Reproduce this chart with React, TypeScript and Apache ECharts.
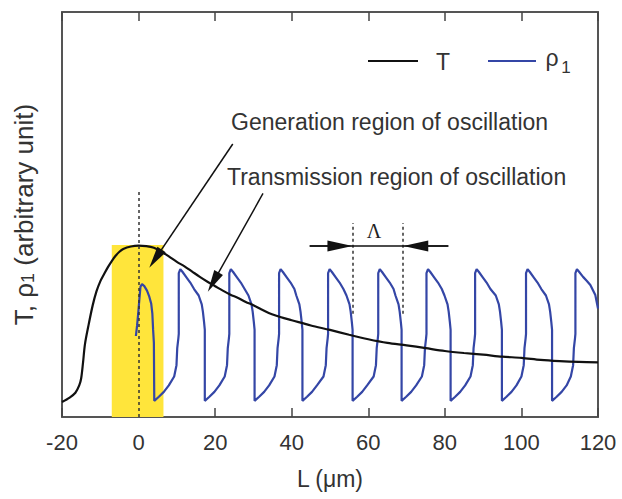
import React, { useEffect, useRef } from 'react';
import * as echarts from 'echarts';

// ---- data ----
const xMin = -20;
const xMax = 120;
const xStep = 20;

// T (black) curve
const tX = [-20, -18, -16.5, -15.5, -15, -14.5, -14, -13, -12, -11, -10, -9, -8, -7, -6, -5, -4, -2, 0, 2, 4, 6, 8, 10, 12, 14, 16, 18, 20, 22, 24, 26, 28, 30, 32, 34, 36, 38, 40, 45, 50, 55, 60, 65, 70, 75, 80, 85, 90, 95, 100, 105, 110, 115, 120];
const tY = [3.7, 4.8, 6.0, 7.8, 9.5, 13.5, 18.0, 23.0, 27.5, 31.0, 33.5, 35.3, 37.0, 38.5, 39.8, 40.8, 41.5, 42.1, 42.3, 42.2, 41.8, 40.8, 39.6, 38.3, 37.2, 35.9, 34.6, 33.4, 32.3, 31.2, 30.2, 29.4, 28.4, 27.6, 26.6, 25.7, 25.0, 24.4, 23.9, 22.6, 21.5, 20.3, 19.2, 18.3, 17.7, 17.0, 16.3, 15.8, 15.4, 14.9, 14.6, 14.1, 13.8, 13.6, 13.5];

// rho1 (blue) – generation pulse and transmitted pulses
const rhoGeneration: number[][] = [
  [-0.7, 20.0], [-0.4, 22.5], [-0.1, 25.5], [0.2, 29.0], [0.5, 32.2], [0.9, 32.8], [1.5, 32.3], [2.2, 31.2], [2.8, 29.7], [3.3, 28.0], [3.6, 25.5], [3.8, 21.5], [4.0, 18.3], [4.1, 4.0],
];
const rhoPulse1: number[][] = [
  [5.3, 5.0], [6.6, 6.2], [7.9, 7.8], [9.3, 10.0], [9.9, 12.8], [10.1, 17.0], [10.4, 19.5], [10.5, 20.5], [10.5, 35.5], [10.9, 36.5], [11.5, 35.8], [12.5, 34.5], [13.5, 33.2], [14.5, 31.6], [15.7, 30.0], [16.5, 27.8], [16.8, 26.0], [17.1, 23.5], [17.3, 21.5], [17.3, 4.0],
];
const rhoPulse2: number[][] = [
  [18.5, 5.0], [19.8, 6.2], [21.1, 7.8], [22.5, 10.0], [23.1, 12.8], [23.3, 17.0], [23.6, 19.5], [23.7, 20.5], [23.7, 35.5], [24.1, 36.5], [24.7, 35.8], [25.7, 34.5], [26.7, 33.2], [27.7, 31.6], [28.7, 30.0], [29.5, 27.8], [29.8, 26.0], [30.1, 23.5], [30.3, 21.5], [30.3, 4.0],
];
const rhoPulse3: number[][] = [
  [31.5, 5.0], [32.8, 6.2], [34.1, 7.8], [35.5, 10.0], [36.1, 12.8], [36.3, 17.0], [36.6, 19.5], [36.7, 20.5], [36.7, 35.5], [37.1, 36.5], [37.7, 35.8], [38.7, 34.5], [39.7, 33.2], [40.7, 31.6], [41.2, 30.0], [42.0, 27.8], [42.3, 26.0], [42.6, 23.5], [42.8, 21.5], [42.8, 4.0],
];
const rhoPulse4: number[][] = [
  [44.0, 5.0], [45.3, 6.2], [46.6, 7.8], [48.3, 10.0], [48.9, 12.8], [49.1, 17.0], [49.4, 19.5], [49.5, 20.5], [49.5, 35.5], [49.9, 36.5], [50.5, 35.8], [51.5, 34.5], [52.5, 33.2], [53.5, 31.6], [54.3, 30.0], [55.1, 27.8], [55.4, 26.0], [55.7, 23.5], [55.9, 21.5], [55.9, 4.0],
];
const rhoPulse5: number[][] = [
  [57.1, 5.0], [58.4, 6.2], [59.7, 7.8], [61.4, 10.0], [62.0, 12.8], [62.2, 17.0], [62.5, 19.5], [62.6, 20.5], [62.6, 35.5], [63.0, 36.5], [63.6, 35.8], [64.6, 34.5], [65.6, 33.2], [66.6, 31.6], [67.1, 30.0], [67.9, 27.8], [68.2, 26.0], [68.5, 23.5], [68.7, 21.5], [68.7, 4.0],
];
const rhoPulse6: number[][] = [
  [69.9, 5.0], [71.2, 6.2], [72.5, 7.8], [74.0, 10.0], [74.6, 12.8], [74.8, 17.0], [75.1, 19.5], [75.2, 20.5], [75.2, 35.5], [75.6, 36.5], [76.2, 35.8], [77.2, 34.5], [78.2, 33.2], [79.2, 31.6], [79.9, 30.0], [80.7, 27.8], [81.0, 26.0], [81.3, 23.5], [81.5, 21.5], [81.5, 4.0],
];
const rhoPulse7: number[][] = [
  [82.7, 5.0], [84.0, 6.2], [85.3, 7.8], [86.7, 10.0], [87.3, 12.8], [87.5, 17.0], [87.8, 19.5], [87.9, 20.5], [87.9, 35.5], [88.3, 36.5], [88.9, 35.8], [89.9, 34.5], [90.9, 33.2], [91.9, 31.6], [93.3, 30.0], [94.1, 27.8], [94.4, 26.0], [94.7, 23.5], [94.9, 21.5], [94.9, 4.0],
];
const rhoPulse8: number[][] = [
  [96.1, 5.0], [97.4, 6.2], [98.7, 7.8], [100.0, 10.0], [100.6, 12.8], [100.8, 17.0], [101.1, 19.5], [101.2, 20.5], [101.2, 35.5], [101.6, 36.5], [102.2, 35.8], [103.2, 34.5], [104.2, 33.2], [105.2, 31.6], [106.4, 30.0], [107.2, 27.8], [107.5, 26.0], [107.8, 23.5], [108.0, 21.5], [108.0, 4.0],
];
const rhoPulse9: number[][] = [
  [109.2, 5.0], [110.5, 6.2], [111.8, 7.8], [112.9, 10.0], [113.5, 12.8], [113.7, 17.0], [114.0, 19.5], [114.1, 20.5], [114.1, 35.5], [114.5, 36.5], [115.1, 35.8], [116.1, 34.6], [117.1, 33.6], [118.0, 32.6], [119.3, 30.1], [120.0, 26.8],
];

// annotations (data coordinates)
const yellowRegion = { x0: -7, x1: 6.5, yTop: 42.5 };
const genDashX = 0;
const genDashTop = 56;
const lambdaLeftX = 55.9;
const lambdaRightX = 69.1;
const lambdaDashBottom = 25.5;
const lambdaDashTop = 47.9;
const lambdaArrowY = 42.2;
const lambdaArrowOuterLeft = 44.7;
const lambdaArrowOuterRight = 80.9;
const lambdaHeadLeft = 52.6;
const lambdaHeadRight = 72.4;
const genArrow = { from: [24.6, 67.4], to: [4.4, 39.1] };
const transArrow = { from: [32.5, 55.2], to: [19.5, 33.3] };

const FONT = '"Liberation Sans", Arial, Helvetica, sans-serif';
const TEXT = '#333';

export default function App() {
  const ref = useRef<HTMLDivElement>(null);

  useEffect(() => {
    document.body.style.margin = '0';
    if (!ref.current) return;
    const chart = echarts.init(ref.current, null, { renderer: 'svg' });

    const tData = tX.map((x, i) => [x, tY[i]]);
    const rhoData = [
      ...rhoGeneration, ...rhoPulse1, ...rhoPulse2, ...rhoPulse3, ...rhoPulse4,
      ...rhoPulse5, ...rhoPulse6, ...rhoPulse7, ...rhoPulse8, ...rhoPulse9,
    ];

    const dashStyle = { type: [3, 3] as any, color: '#333', width: 1.5 };
    const solidStyle = { type: 'solid' as any, color: '#111', width: 1.5 };
    const frame = { show: true, onZero: false, lineStyle: { color: '#555', width: 2 } };

    const option: any = {
      animation: false,
      backgroundColor: '#fff',
      textStyle: { fontFamily: FONT },
      grid: { left: 62, right: 24, top: 12, bottom: 82, containLabel: false },
      xAxis: [
        {
          type: 'value', min: xMin, max: xMax, interval: xStep, position: 'bottom',
          name: 'L (μm)', nameLocation: 'middle', nameGap: 50,
          nameTextStyle: { fontSize: 23, color: TEXT, fontFamily: FONT },
          axisLine: frame,
          axisTick: { show: true, inside: true, length: 9, lineStyle: { color: '#444', width: 1.5 } },
          axisLabel: { fontSize: 22, color: TEXT, margin: 14, fontFamily: FONT },
          splitLine: { show: false },
        },
        {
          type: 'value', min: xMin, max: xMax, interval: xStep, position: 'top',
          axisLine: frame,
          axisTick: { show: true, inside: true, length: 9, lineStyle: { color: '#444', width: 1.5 } },
          axisLabel: { show: false },
          splitLine: { show: false },
        },
      ],
      yAxis: [
        {
          type: 'value', min: 0, max: 100, position: 'left',
          name: '{n|T, ρ}{s|1}{n| (arbitrary unit)}', nameLocation: 'middle', nameGap: 25, nameRotate: 90,
          nameTextStyle: {
            color: TEXT, fontFamily: FONT, fontSize: 26,
            rich: {
              n: { fontSize: 26, color: TEXT, fontFamily: FONT, lineHeight: 32, verticalAlign: 'bottom' },
              s: { fontSize: 18, color: TEXT, fontFamily: FONT, lineHeight: 20, verticalAlign: 'bottom' },
            },
          },
          axisLine: frame,
          axisTick: { show: false }, axisLabel: { show: false }, splitLine: { show: false },
        },
        {
          type: 'value', min: 0, max: 100, position: 'right',
          axisLine: frame,
          axisTick: { show: false }, axisLabel: { show: false }, splitLine: { show: false },
        },
      ],
      series: [
        {
          name: 'ρ1', type: 'line', data: rhoData, showSymbol: false, z: 3,
          lineStyle: { color: '#3446a6', width: 2.2 }, itemStyle: { color: '#3446a6' },
          markArea: {
            silent: true,
            itemStyle: { color: '#ffe53b', opacity: 1 },
            data: [[{ coord: [yellowRegion.x0, 0] }, { coord: [yellowRegion.x1, yellowRegion.yTop] }]],
          },
        },
        {
          name: 'T', type: 'line', data: tData, showSymbol: false, smooth: 0.3, z: 4,
          lineStyle: { color: '#111', width: 2.2 }, itemStyle: { color: '#111' },
          markLine: {
            silent: true,
            label: { show: false },
            symbol: ['none', 'none'],
            data: [
              [{ coord: [genDashX, 0], lineStyle: dashStyle }, { coord: [genDashX, genDashTop] }],
              [{ coord: [lambdaLeftX, lambdaDashBottom], lineStyle: dashStyle }, { coord: [lambdaLeftX, lambdaDashTop] }],
              [{ coord: [lambdaRightX, lambdaDashBottom], lineStyle: dashStyle }, { coord: [lambdaRightX, lambdaDashTop] }],
              [{ coord: [lambdaArrowOuterLeft, lambdaArrowY], lineStyle: solidStyle }, { coord: [lambdaArrowOuterRight, lambdaArrowY] }],
              [{ coord: [lambdaArrowOuterLeft, lambdaArrowY], lineStyle: solidStyle }, { coord: [lambdaHeadLeft, lambdaArrowY], symbol: 'triangle', symbolSize: [11, 25] }],
              [{ coord: [lambdaArrowOuterRight, lambdaArrowY], lineStyle: solidStyle }, { coord: [lambdaHeadRight, lambdaArrowY], symbol: 'triangle', symbolSize: [11, 25] }],
              [{ coord: genArrow.from, lineStyle: solidStyle }, { coord: genArrow.to, symbol: 'triangle', symbolSize: [10, 22] }],
              [{ coord: transArrow.from, lineStyle: solidStyle }, { coord: transArrow.to, symbol: 'triangle', symbolSize: [10, 22] }],
            ],
          },
        },
      ],
      graphic: [
        { type: 'line', shape: { x1: 368, y1: 61, x2: 418, y2: 61 }, style: { stroke: '#111', lineWidth: 2.2 } },
        { type: 'text', x: 443, y: 62, style: { text: 'T', fontSize: 23, fontFamily: FONT, fill: TEXT, align: 'center', verticalAlign: 'middle' } },
        { type: 'line', shape: { x1: 488, y1: 61, x2: 536, y2: 61 }, style: { stroke: '#3446a6', lineWidth: 2.2 } },
        { type: 'text', x: 552, y: 58, style: { text: 'ρ', fontSize: 23, fontFamily: FONT, fill: TEXT, align: 'center', verticalAlign: 'middle' } },
        { type: 'text', x: 566, y: 67, style: { text: '1', fontSize: 17, fontFamily: FONT, fill: TEXT, align: 'center', verticalAlign: 'middle' } },
        { type: 'text', x: 231, y: 122, style: { text: 'Generation region of oscillation', fontSize: 23, fontFamily: FONT, fill: TEXT, align: 'left', verticalAlign: 'middle' } },
        { type: 'text', x: 227, y: 177, style: { text: 'Transmission region of oscillation', fontSize: 23, fontFamily: FONT, fill: TEXT, align: 'left', verticalAlign: 'middle' } },
        { type: 'text', x: 374, y: 231, style: { text: 'Λ', fontSize: 20, fontFamily: '"Liberation Serif", "Times New Roman", serif', fill: '#222', align: 'center', verticalAlign: 'middle' } },
      ],
    };

    chart.setOption(option);
    return () => chart.dispose();
  }, []);

  return <div ref={ref} style={{ width: 622, height: 499 }} />;
}
